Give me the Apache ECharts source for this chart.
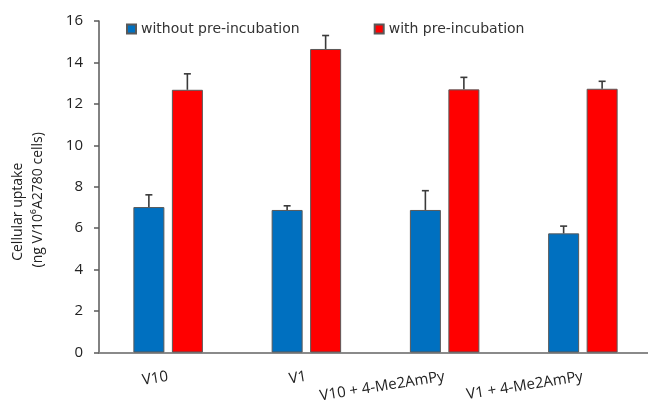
<!DOCTYPE html>
<html>
<head>
<meta charset="utf-8">
<script src="https://cdn.jsdelivr.net/npm/echarts@6/dist/echarts.min.js"></script>
<style>html,body{margin:0;padding:0;background:#fff;}#chart{width:648px;height:402px;}</style>
</head>
<body>
<div id="chart"></div>
<script>
const categories = ['V10', 'V1', 'V10 + 4-Me2AmPy', 'V1 + 4-Me2AmPy'];
const seriesNames = ['without pre-incubation', 'with pre-incubation'];
const withoutVals = [7.02, 6.88, 6.88, 5.75];
const withoutErr = [0.59, 0.20, 0.93, 0.35];
const withVals = [12.68, 14.65, 12.70, 12.73];
const withErr = [0.77, 0.65, 0.58, 0.36];
const yMin = 0, yMax = 16, yInterval = 2;

const BAR_W = 31, BAR_GAP = 7.5;
const offsets = [-(BAR_W + BAR_GAP) / 2, (BAR_W + BAR_GAP) / 2];
const font = '"Open Sans", sans-serif';

function errSeries(vals, errs, k) {
  return {
    type: 'custom',
    z: 5,
    silent: true,
    data: vals.map((v, i) => [i, v, errs[i]]),
    renderItem: function (params, api) {
      const i = api.value(0), v = api.value(1), e = api.value(2);
      const p0 = api.coord([i, v]);
      const p1 = api.coord([i, v + e]);
      const x = p0[0] + offsets[k];
      const style = { stroke: '#3a3a3a', lineWidth: 1.6 };
      return {
        type: 'group',
        children: [
          { type: 'line', shape: { x1: x, y1: p0[1], x2: x, y2: p1[1] }, style: style },
          { type: 'line', shape: { x1: x - 3.5, y1: p1[1], x2: x + 3.5, y2: p1[1] }, style: style }
        ]
      };
    }
  };
}

const chart = echarts.init(document.getElementById('chart'));
chart.setOption({
  animation: false,
  backgroundColor: '#fff',
  legend: {
    data: seriesNames,
    left: 121,
    top: 17,
    itemWidth: 9,
    itemHeight: 9,
    itemGap: 74,
    icon: 'rect',
    textStyle: { fontFamily: '"DejaVu Sans", sans-serif', fontSize: 14, color: '#333' }
  },
  grid: { left: 99, top: 21, width: 553, height: 331.5, containLabel: false, outerBoundsMode: 'none' },
  xAxis: {
    type: 'category',
    data: categories,
    axisTick: { show: false },
    axisLine: { lineStyle: { color: '#8a8a8a', width: 2 } },
    axisLabel: {
      rotate: 9, margin: 24, interval: 0,
      fontFamily: font, fontSize: 15, color: '#222'
    }
  },
  yAxis: {
    type: 'value',
    min: yMin, max: yMax, interval: yInterval,
    splitLine: { show: false },
    axisLine: { show: true, lineStyle: { color: '#595959', width: 1.5 } },
    axisTick: { show: true, length: 5, lineStyle: { color: '#595959', width: 1.5 } },
    axisLabel: { margin: 16, fontFamily: font, fontSize: 15, color: '#222' },
    name: '{a|Cellular uptake}\n{b|(ng V/10\u2076A2780 cells)}',
    nameLocation: 'middle',
    nameRotate: 90,
    nameGap: 51,
    nameTextStyle: {
      fontFamily: font, fontSize: 14, lineHeight: 20, color: '#222', padding: [0, 26, 0, 0],
      rich: {
        a: { fontFamily: font, fontSize: 14, lineHeight: 20, color: '#222', padding: [0, 24, 0, 0] },
        b: { fontFamily: font, fontSize: 14, lineHeight: 20, color: '#222' }
      }
    }
  },
  series: [
    {
      name: seriesNames[0], type: 'bar', data: withoutVals,
      barWidth: BAR_W, barGap: (BAR_GAP / BAR_W * 100) + '%',
      itemStyle: { color: '#0070C0', borderColor: '#595959', borderWidth: 1 }
    },
    {
      name: seriesNames[1], type: 'bar', data: withVals,
      barWidth: BAR_W, barGap: (BAR_GAP / BAR_W * 100) + '%',
      itemStyle: { color: '#FF0000', borderColor: '#595959', borderWidth: 1 }
    },
    errSeries(withoutVals, withoutErr, 0),
    errSeries(withVals, withErr, 1)
  ]
});
</script>
</body>
</html>
